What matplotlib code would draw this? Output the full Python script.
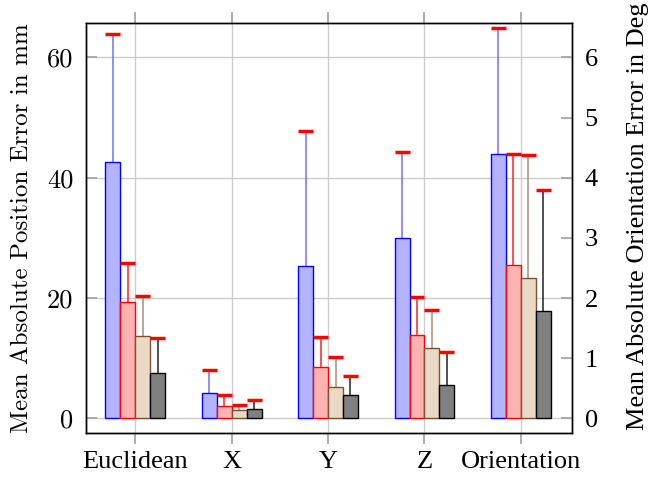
import matplotlib
matplotlib.use("Agg")
import matplotlib.pyplot as plt
import numpy as np

categories = ["Euclidean", "X", "Y", "Z", "Orientation"]

# means and (upper) std per method; last entry (Orientation) is in degrees
blue_mean = [42.6, 4.27, 25.3, 30.0, 4.39]
blue_std = [21.2, 3.8, 22.5, 14.2, 2.09]
red_mean = [19.4, 2.0, 8.5, 13.9, 2.55]
red_std = [6.5, 1.9, 5.0, 6.2, 1.84]
tan_mean = [13.7, 1.33, 5.3, 11.7, 2.34]
tan_std = [6.7, 0.94, 4.95, 6.4, 2.04]
gray_mean = [7.6, 1.6, 3.9, 5.54, 1.78]
gray_std = [5.7, 1.45, 3.1, 5.56, 2.02]

series = [
    (blue_mean, blue_std, "#b3b3ff", "#0000ff", "#6f6fff"),
    (red_mean, red_std, "#ffb3b3", "#ff0000", "#ff2020"),
    (tan_mean, tan_std, "#ead9c5", "#7a5230", "#a88e76"),
    (gray_mean, gray_std, "#808080", "#000000", "#202020"),
]

grid_c = "#cccccc"
tick_c = "#a0a0a0"
fs = 19

fig = plt.figure(figsize=(6.48, 4.79), dpi=100)
ax = fig.add_axes([86 / 648, 1 - 432.5 / 479, (572 - 86) / 648, (432.5 - 23) / 479])
ax2 = ax.twinx()

x = np.arange(len(categories))
w = 0.155
offsets = [-1.5, -0.5, 0.5, 1.5]

for (mean, std, fc, ec, lc), off in zip(series, offsets):
    for i in range(len(categories)):
        a = ax2 if categories[i] == "Orientation" else ax
        xi = x[i] + off * w
        top = mean[i] + std[i]
        a.bar(xi, mean[i], width=w, color=fc, edgecolor=ec, linewidth=1.0, zorder=3)
        a.vlines(xi, mean[i], top, color=lc, linewidth=1.1, zorder=2)
        a.hlines(top, xi - w / 2, xi + w / 2, color="red", linewidth=2.5, zorder=4)

ax.set_xlim(-0.51, 4.53)
ax.set_ylim(-2.33, 65.7)
ax2.set_ylim(-0.233, 6.57)

ax.set_xticks(x)
ax.set_xticklabels(categories, fontfamily="Liberation Serif", fontsize=fs)
ax.tick_params(axis="x", direction="out", top=True, length=8, width=1.2,
               color=tick_c, pad=5)

ax.set_yticks([0, 20, 40, 60])
ax.set_yticklabels(["0", "20", "40", "60"], fontfamily="cmr10", fontsize=19)
ax.tick_params(axis="y", direction="in", length=8, width=1.2, color=tick_c, pad=9)
ax.set_ylabel("Mean Absolute Position Error in mm", fontfamily="cmr10",
              fontsize=18)
ax.yaxis.set_label_coords(-0.109, 0.5)

ax2.set_yticks(range(0, 7))
ax2.set_yticklabels([str(v) for v in range(7)], fontfamily="Liberation Serif",
                    fontsize=fs)
ax2.tick_params(axis="y", direction="in", length=8, width=1.2, color=tick_c, pad=9)
ax2.set_ylabel("Mean Absolute Orientation Error in Deg",
               fontfamily="Liberation Serif", fontsize=fs)
ax2.yaxis.set_label_coords(1.113, 0.527)

ax.grid(True, color=grid_c, linewidth=1.0, zorder=0)
ax.set_axisbelow(True)
for a in (ax, ax2):
    for s in a.spines.values():
        s.set_linewidth(1.0)
        s.set_color("black")

fig.savefig("out.png", dpi=100)
